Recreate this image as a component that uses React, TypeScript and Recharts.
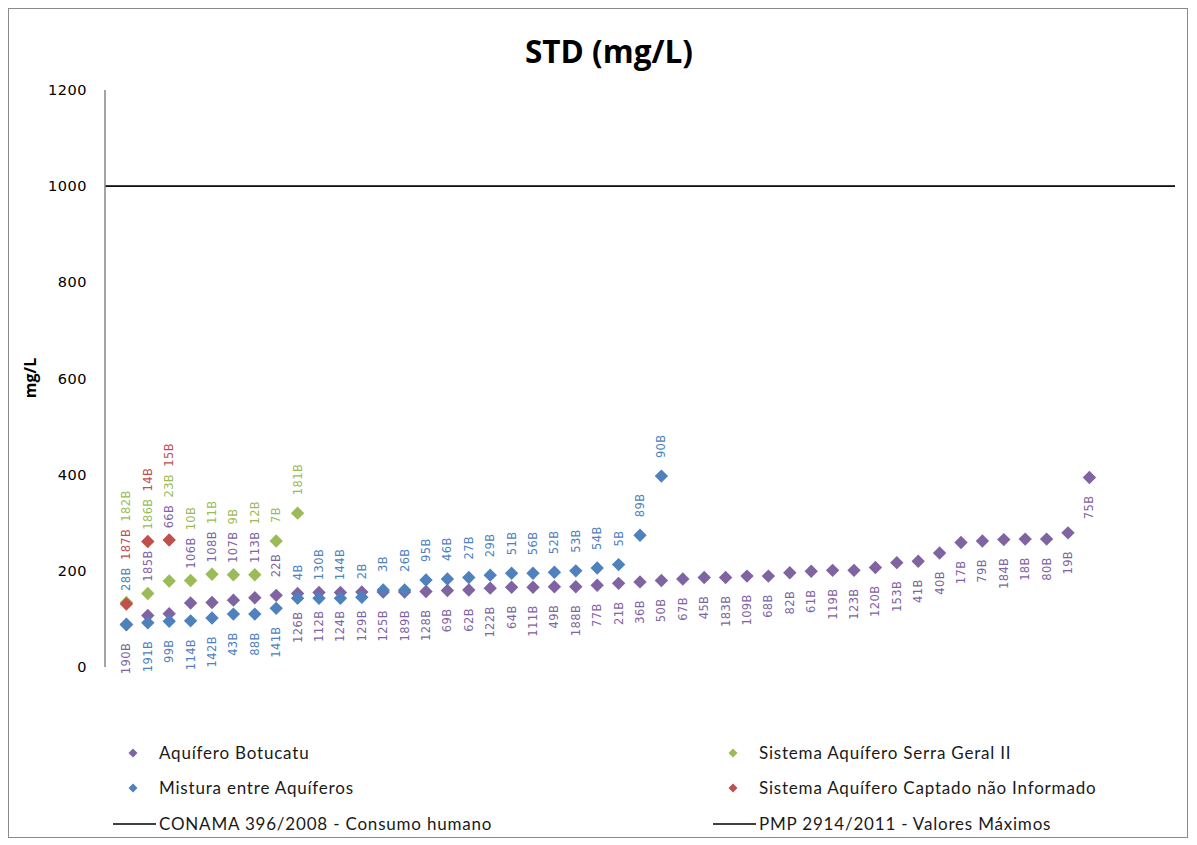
import React from 'react';
import { ScatterChart, Scatter, XAxis, YAxis, ReferenceLine } from 'recharts';

// Sólidos totais dissolvidos (mg/L) por poço, ordenados dentro de cada aquífero
const BOTUCATU_STD = [
  88, 107, 111, 133, 134, 139, 144, 149, 153, 155, 155, 156, 156, 156, 157, 159,
  160, 164, 166, 166, 167, 167, 170, 174, 177, 180, 183, 186, 186, 189, 189, 196,
  199, 201, 201, 207, 217, 220, 237, 259, 262, 265, 266, 266, 279, 394,
];
const BOTUCATU_WELLS = [
  '190B', '185B', '66B', '106B', '108B', '107B', '113B', '22B', '126B', '112B',
  '124B', '129B', '125B', '189B', '128B', '69B', '62B', '122B', '64B', '111B',
  '49B', '188B', '77B', '21B', '36B', '50B', '67B', '45B', '183B', '109B', '68B',
  '82B', '61B', '119B', '123B', '120B', '153B', '41B', '40B', '17B', '79B',
  '184B', '18B', '80B', '19B', '75B',
];

const SERRA_GERAL_STD = [134, 153, 179, 180, 193, 192, 192, 262, 320];
const SERRA_GERAL_WELLS = ['182B', '186B', '23B', '10B', '11B', '9B', '12B', '7B', '181B'];

const MISTURA_STD = [
  89, 92, 95, 96, 102, 110, 110, 122, 143, 143, 143, 145, 160, 160, 181, 183,
  186, 191, 195, 195, 197, 200, 206, 213, 274, 397,
];
const MISTURA_WELLS = [
  '28B', '191B', '99B', '114B', '142B', '43B', '88B', '141B', '4B', '130B',
  '144B', '2B', '3B', '26B', '95B', '46B', '27B', '29B', '51B', '56B', '52B',
  '53B', '54B', '5B', '89B', '90B',
];

const NAO_INFORMADO_STD = [131, 261, 264];
const NAO_INFORMADO_WELLS = ['187B', '14B', '15B'];

const CONAMA_LIMIT = [1000];
const PMP_LIMIT = [1000];

const Y_TICKS = [0, 200, 400, 600, 800, 1000, 1200];
const Y_MIN = 0;
const Y_MAX = 1200;
const X_MAX = 50;

// chart geometry
const W = 1178;
const H = 828;
const MARGIN = { top: 81, right: 12, bottom: 170, left: 21 };
const Y_AXIS_W = 75;
const PLOT_H = H - MARGIN.top - MARGIN.bottom;
const PX_PER_UNIT = PLOT_H / (Y_MAX - Y_MIN);

// label metrics (px)
const LABEL_FONT = 11.5;
const LABEL_SPACING = 0.4;
const CHAR_W = 7.6;
const GAP = 18;
const MARK_HALF = 6.7;
const PAD = 5;
const STACK = 8;

type Side = 'above' | 'below';

interface SeriesDef {
  id: string;
  name: string;
  color: string;
  values: number[];
  wells: string[];
  side: (i: number) => Side;
}

const SERIES: SeriesDef[] = [
  {
    id: 'bot', name: 'Aquífero Botucatu', color: '#8064A2',
    values: BOTUCATU_STD, wells: BOTUCATU_WELLS,
    side: (i) => (i >= 1 && i <= 7 ? 'above' : 'below'),
  },
  {
    id: 'sg', name: 'Sistema Aquífero Serra Geral II', color: '#9BBB59',
    values: SERRA_GERAL_STD, wells: SERRA_GERAL_WELLS,
    side: () => 'above',
  },
  {
    id: 'mix', name: 'Mistura entre Aquíferos', color: '#4F81BD',
    values: MISTURA_STD, wells: MISTURA_WELLS,
    side: (i) => (i >= 1 && i <= 7 ? 'below' : 'above'),
  },
  {
    id: 'ni', name: 'Sistema Aquífero Captado não Informado', color: '#C0504D',
    values: NAO_INFORMADO_STD, wells: NAO_INFORMADO_WELLS,
    side: () => 'above',
  },
];

const toPx = (v: number) => (Y_MAX - v) * PX_PER_UNIT;
const toVal = (px: number) => Y_MAX - px / PX_PER_UNIT;

interface LabelPoint { x: number; y: number; text: string; color: string; side: Side }

// Stack the rotated well labels of each column so they clear the markers and each other.
function layoutLabels(): LabelPoint[] {
  const out: LabelPoint[] = [];
  const n = Math.max(...SERIES.map((s) => s.values.length));
  for (let i = 0; i < n; i++) {
    const pts = SERIES.filter((s) => i < s.values.length).map((s) => ({
      s,
      y: toPx(s.values[i]),
      len: s.wells[i].length * CHAR_W,
      side: s.side(i),
    }));
    const hitTest = (self: any, a: number, b: number) =>
      pts.find((p) => p !== self && p.y + MARK_HALF > a && p.y - MARK_HALF < b);

    let cursor = Infinity;
    for (const p of pts.filter((q) => q.side === 'above').sort((a, b) => b.y - a.y)) {
      let bottom = Math.min(p.y - GAP, cursor - STACK);
      for (let k = 0; k <= pts.length; k++) {
        const hit = hitTest(p, bottom - p.len, bottom);
        if (!hit) break;
        bottom = hit.y - MARK_HALF - PAD;
      }
      cursor = bottom - p.len;
      out.push({ x: i + 1, y: toVal(bottom), text: p.s.wells[i], color: p.s.color, side: 'above' });
    }

    cursor = -Infinity;
    for (const p of pts.filter((q) => q.side === 'below').sort((a, b) => a.y - b.y)) {
      let top = Math.max(p.y + GAP, cursor + STACK);
      for (let k = 0; k <= pts.length; k++) {
        const hit = hitTest(p, top, top + p.len);
        if (!hit) break;
        top = hit.y + MARK_HALF + PAD;
      }
      cursor = top + p.len;
      out.push({ x: i + 1, y: toVal(top), text: p.s.wells[i], color: p.s.color, side: 'below' });
    }
  }
  return out;
}

const LABELS = layoutLabels();

const Diamond = (props: any) => {
  const { cx, cy, fill } = props;
  if (cx == null || cy == null) return null;
  const h = MARK_HALF;
  return <polygon points={`${cx},${cy - h} ${cx + h},${cy} ${cx},${cy + h} ${cx - h},${cy}`} fill={fill} />;
};

const WellLabel = (props: any) => {
  const { cx, cy, payload } = props;
  if (cx == null || cy == null) return null;
  return (
    <text
      x={cx}
      y={cy}
      transform={`rotate(-90 ${cx} ${cy})`}
      textAnchor={payload.side === 'above' ? 'start' : 'end'}
      dominantBaseline="central"
      fill={payload.color}
      fontSize={LABEL_FONT}
      letterSpacing={LABEL_SPACING}
      fontFamily="'DejaVu Sans', Verdana, sans-serif"
    >
      {payload.text}
    </text>
  );
};

const LEGEND_ITEMS = [
  { kind: 'marker', name: 'Aquífero Botucatu', color: '#8064A2', col: 0, row: 0 },
  { kind: 'marker', name: 'Sistema Aquífero Serra Geral II', color: '#9BBB59', col: 1, row: 0 },
  { kind: 'marker', name: 'Mistura entre Aquíferos', color: '#4F81BD', col: 0, row: 1 },
  { kind: 'marker', name: 'Sistema Aquífero Captado não Informado', color: '#C0504D', col: 1, row: 1 },
  { kind: 'line', name: 'CONAMA 396/2008 - Consumo humano', color: '#000000', col: 0, row: 2 },
  { kind: 'line', name: 'PMP 2914/2011 - Valores Máximos', color: '#000000', col: 1, row: 2 },
];
const LEGEND_TEXT_X = [150, 750];
const LEGEND_ROW_Y = [744, 779, 815];

const legendFont = "Lato, 'Open Sans', sans-serif";

export default function App() {
  return (
    <div
      style={{
        position: 'relative',
        width: W,
        height: H,
        border: '1px solid #8a8a8a',
        background: '#ffffff',
        fontFamily: legendFont,
      }}
    >
      <div
        style={{
          position: 'absolute',
          left: 0,
          width: W,
          top: 21,
          textAlign: 'center',
          fontFamily: "'Open Sans', sans-serif",
          fontWeight: 700,
          fontSize: 31.5,
          lineHeight: '42px',
          color: '#000',
          paddingLeft: 11,
        }}
      >
        STD (mg/L)
      </div>

      <div
        style={{
          position: 'absolute',
          left: 21,
          top: 369,
          transform: 'translate(-50%, -50%) rotate(-90deg)',
          fontFamily: "'Open Sans', sans-serif",
          fontWeight: 700,
          fontSize: 16,
          color: '#000',
          whiteSpace: 'nowrap',
        }}
      >
        mg/L
      </div>

      <div style={{ position: 'absolute', left: 0, top: 0 }}>
        <ScatterChart width={W} height={H} margin={MARGIN}>
          <XAxis
            type="number"
            dataKey="x"
            domain={[0, X_MAX]}
            tick={false}
            tickLine={false}
            height={0}
            axisLine={{ stroke: '#868686', strokeWidth: 1.5 }}
          />
          <YAxis
            type="number"
            dataKey="y"
            domain={[Y_MIN, Y_MAX]}
            ticks={Y_TICKS}
            width={Y_AXIS_W}
            tickLine={false}
            tickSize={0}
            tickMargin={18}
            axisLine={{ stroke: '#868686', strokeWidth: 1.5 }}
            tick={{ fill: '#000', fontSize: 14.5, fontFamily: "'DejaVu Sans', Verdana, sans-serif", letterSpacing: 0.5 }}
          />
          <ReferenceLine y={CONAMA_LIMIT[0]} stroke="#000" strokeWidth={1.4} />
          <ReferenceLine y={PMP_LIMIT[0]} stroke="#000" strokeWidth={1.4} />
          {SERIES.map((s) => (
            <Scatter
              key={s.id}
              name={s.name}
              data={s.values.map((v, i) => ({ x: i + 1, y: v }))}
              fill={s.color}
              shape={<Diamond />}
              isAnimationActive={false}
            />
          ))}
          <Scatter
            name="labels"
            data={LABELS}
            fill="none"
            shape={<WellLabel />}
            legendType="none"
            isAnimationActive={false}
          />
        </ScatterChart>
      </div>

      {LEGEND_ITEMS.map((item) => {
        const tx = LEGEND_TEXT_X[item.col];
        const cy = LEGEND_ROW_Y[item.row];
        return (
          <div
            key={item.name}
            style={{ position: 'absolute', left: tx - 46, top: cy - 12, height: 24, display: 'flex', alignItems: 'center' }}
          >
            <svg width={46} height={24} style={{ display: 'block' }}>
              {item.kind === 'marker' ? (
                <polygon points="20,7.5 24.5,12 20,16.5 15.5,12" fill={item.color} />
              ) : (
                <line x1={0} y1={12} x2={43} y2={12} stroke={item.color} strokeWidth={1.4} />
              )}
            </svg>
            <span style={{ fontSize: 17, letterSpacing: 0.8, color: '#1a1a1a', whiteSpace: 'nowrap', lineHeight: '24px' }}>
              {item.name}
            </span>
          </div>
        );
      })}
    </div>
  );
}
